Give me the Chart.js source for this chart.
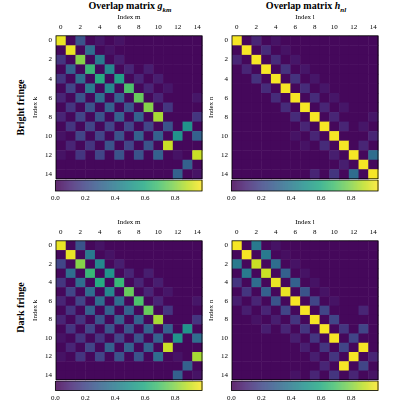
<!DOCTYPE html>
<html>
<head>
<meta charset="utf-8">
<script src="https://cdn.jsdelivr.net/npm/chart.js@4.4.0/dist/chart.umd.min.js"></script>
<style>
body { margin: 0; width: 400px; height: 400px; background: #fff; position: relative; overflow: hidden; font-family: "Liberation Serif", serif; }
.box { position: absolute; }
.title { position: absolute; font-weight: bold; font-size: 10px; text-align: center; width: 180px; }
.rowlab { position: absolute; font-weight: bold; font-size: 10px; transform: rotate(-90deg); transform-origin: center; white-space: nowrap; width: 100px; text-align: center; }
</style>
</head>
<body>
<div class="title" style="left:40px;top:0px">Overlap matrix <i>g</i><sub style="font-size:7px"><i>km</i></sub></div>
<div class="title" style="left:216px;top:0px">Overlap matrix <i>h</i><sub style="font-size:7px"><i>nl</i></sub></div>
<div class="rowlab" style="left:-30px;top:102px">Bright fringe</div>
<div class="rowlab" style="left:-30px;top:302px">Dark fringe</div>

<div class="box" style="left:30px;top:12px;width:176px;height:172px"><canvas id="hA"></canvas></div>
<div class="box" style="left:206px;top:12px;width:176px;height:172px"><canvas id="hB"></canvas></div>
<div class="box" style="left:30px;top:217px;width:176px;height:168px"><canvas id="hC"></canvas></div>
<div class="box" style="left:206px;top:217px;width:176px;height:168px"><canvas id="hD"></canvas></div>
<div class="box" style="left:50px;top:180px;width:156px;height:22px"><canvas id="cA"></canvas></div>
<div class="box" style="left:226px;top:180px;width:156px;height:22px"><canvas id="cB"></canvas></div>
<div class="box" style="left:50px;top:381px;width:156px;height:19px"><canvas id="cC"></canvas></div>
<div class="box" style="left:226px;top:381px;width:156px;height:19px"><canvas id="cD"></canvas></div>

<script>
const N = 15;
const indexTicks = [0, 2, 4, 6, 8, 10, 12, 14];
const barTicks = [0, 0.2, 0.4, 0.6, 0.8];
const background = 0.02;

// [row, col, value]
const brightG = [
  [0,0,.95],[0,2,.25],[0,4,.06],[0,6,.05],
  [1,1,.95],[1,3,.35],[1,5,.05],
  [2,0,.15],[2,2,.8],[2,4,.4],[2,6,.08],
  [3,1,.3],[3,3,.65],[3,5,.45],[3,7,.1],[3,9,.08],
  [4,0,.15],[4,2,.35],[4,4,.6],[4,6,.55],[4,8,.1],[4,10,.08],
  [5,1,.2],[5,3,.4],[5,5,.45],[5,7,.7],[5,9,.1],[5,11,.06],
  [6,0,.1],[6,2,.25],[6,4,.35],[6,6,.3],[6,8,.75],[6,10,.1],[6,14,.06],
  [7,1,.15],[7,3,.25],[7,5,.3],[7,7,.25],[7,9,.8],[7,11,.15],
  [8,0,.1],[8,2,.2],[8,4,.25],[8,6,.3],[8,8,.3],[8,10,.85],[8,14,.15],
  [9,1,.15],[9,3,.2],[9,5,.2],[9,7,.2],[9,9,.2],[9,11,.25],[9,13,.5],
  [10,0,.05],[10,2,.2],[10,4,.2],[10,6,.25],[10,8,.3],[10,10,.3],[10,12,.5],[10,14,.3],
  [11,1,.1],[11,3,.15],[11,5,.25],[11,7,.2],[11,9,.25],[11,11,.9],
  [12,0,.05],[12,2,.15],[12,4,.2],[12,6,.25],[12,8,.25],[12,10,.3],[12,12,.05],[12,14,.9],
  [13,13,.3],[14,12,.3],[14,14,.05]
];
const brightH = [
  [0,0,.97],[0,2,.1],[0,4,.05],
  [1,1,.97],[1,3,.12],[1,5,.05],
  [2,0,.1],[2,2,.97],[2,4,.12],[2,6,.06],
  [3,1,.1],[3,3,.97],[3,5,.14],[3,7,.06],
  [4,2,.14],[4,4,.97],[4,6,.14],[4,8,.06],
  [5,3,.12],[5,5,.97],[5,7,.12],[5,9,.06],
  [6,4,.12],[6,6,.97],[6,8,.12],[6,10,.06],
  [7,5,.12],[7,7,.97],[7,9,.1],[7,11,.06],
  [8,6,.12],[8,8,.97],[8,10,.1],[8,14,.06],
  [9,7,.1],[9,9,.97],[9,11,.1],[9,13,.06],
  [10,6,.05],[10,8,.1],[10,10,.97],[10,14,.1],
  [11,7,.05],[11,9,.12],[11,11,.97],[11,13,.1],
  [12,10,.08],[12,12,.97],[12,14,.35],
  [13,11,.08],[13,13,.97],
  [14,8,.1],[14,10,.15],[14,12,.35],[14,14,.97]
];
const darkG = [
  [0,0,.95],[0,2,.25],[0,4,.05],
  [1,1,.95],[1,3,.4],[1,5,.05],
  [2,0,.2],[2,2,.8],[2,4,.45],[2,6,.08],
  [3,1,.35],[3,3,.65],[3,5,.5],[3,7,.1],[3,9,.08],
  [4,0,.15],[4,2,.35],[4,4,.6],[4,6,.65],[4,8,.1],[4,10,.08],
  [5,1,.2],[5,3,.35],[5,5,.45],[5,7,.75],[5,9,.1],[5,11,.06],
  [6,0,.1],[6,2,.2],[6,4,.35],[6,6,.35],[6,8,.7],[6,10,.1],[6,14,.06],
  [7,1,.15],[7,3,.3],[7,5,.3],[7,7,.3],[7,9,.75],[7,11,.15],
  [8,0,.1],[8,2,.15],[8,4,.25],[8,6,.3],[8,8,.3],[8,10,.85],[8,14,.15],
  [9,1,.15],[9,3,.2],[9,5,.25],[9,7,.25],[9,9,.3],[9,11,.3],[9,13,.5],
  [10,0,.05],[10,2,.15],[10,4,.15],[10,6,.2],[10,8,.25],[10,10,.3],[10,12,.5],[10,14,.35],
  [11,1,.1],[11,3,.2],[11,5,.3],[11,7,.3],[11,9,.3],[11,11,.9],
  [12,0,.05],[12,2,.15],[12,4,.2],[12,6,.25],[12,8,.25],[12,10,.35],[12,12,.05],[12,14,.85],
  [13,13,.3],[14,12,.3],[14,14,.05]
];
const darkH = [
  [0,0,.97],[0,2,.4],[0,4,.05],
  [1,1,.97],[1,3,.4],[1,5,.04],
  [2,0,.4],[2,2,.9],[2,4,.35],[2,6,.05],
  [3,1,.4],[3,3,.9],[3,5,.3],[3,7,.05],
  [4,0,.15],[4,2,.35],[4,4,.95],[4,6,.3],[4,8,.05],
  [5,1,.15],[5,3,.3],[5,5,.95],[5,7,.25],[5,9,.05],
  [6,0,.08],[6,2,.1],[6,4,.25],[6,6,.97],[6,8,.2],[6,10,.05],
  [7,1,.08],[7,3,.1],[7,5,.2],[7,7,.97],[7,9,.2],[7,13,.1],
  [8,2,.05],[8,4,.08],[8,6,.15],[8,8,.97],[8,10,.2],
  [9,3,.08],[9,5,.1],[9,7,.15],[9,9,.97],[9,11,.15],[9,13,.2],
  [10,6,.08],[10,8,.15],[10,10,.97],[10,12,.2],
  [11,7,.08],[11,9,.15],[11,11,.2],[11,13,.97],
  [12,8,.08],[12,10,.15],[12,12,.97],[12,14,.1],
  [13,9,.1],[13,11,.97],[13,13,.2],
  [14,6,.05],[14,8,.1],[14,10,.15],[14,12,.1],[14,14,.05]
];

const viridisStops = [
  [68,1,84],[72,36,117],[65,68,135],[53,95,141],[42,120,142],
  [33,145,140],[34,168,132],[68,191,112],[122,209,81],[189,223,38],[253,231,37]
];
function viridis(t) {
  t = Math.max(0, Math.min(1, t / 0.98));
  const p = t * (viridisStops.length - 1);
  const i = Math.min(Math.floor(p), viridisStops.length - 2);
  const f = p - i;
  const a = viridisStops[i], b = viridisStops[i + 1];
  return `rgb(${a.map((v, k) => Math.round(v + (b[k] - v) * f)).join(',')})`;
}

const font = { family: 'Liberation Serif', size: 7 };

const heatPlugin = {
  id: 'heat',
  beforeDatasetsDraw(chart) {
    const { ctx, scales: { x, y } } = chart;
    chart.data.datasets[0].data.forEach(p => {
      const x0 = x.getPixelForValue(p.x - 0.5), x1 = x.getPixelForValue(p.x + 0.5);
      const y0 = y.getPixelForValue(p.y - 0.5), y1 = y.getPixelForValue(p.y + 0.5);
      ctx.fillStyle = viridis(p.v);
      ctx.fillRect(x0, y0, x1 - x0 + 0.5, y1 - y0 + 0.5);
    });
    const a = chart.chartArea;
    ctx.strokeStyle = '#000';
    ctx.lineWidth = 0.8;
    ctx.strokeRect(a.left, a.top, a.right - a.left, a.bottom - a.top);
  }
};

const makeHeat = (id, entries, xTitle, yTitle) => {
  const cells = [];
  for (let r = 0; r < N; r++) for (let c = 0; c < N; c++) cells.push({ x: c, y: r, v: background });
  entries.forEach(([r, c, v]) => { cells[r * N + c].v = v; });
  const axis = (title, extra) => Object.assign({
    type: 'linear', min: -0.5, max: 14.5,
    afterBuildTicks: s => { s.ticks = indexTicks.map(v => ({ value: v })); },
    grid: { display: false, drawTicks: true, tickLength: 3, color: '#000' },
    border: { display: false },
    ticks: { font, color: '#000', padding: 1, maxRotation: 0 },
    title: { display: true, text: title, font: { family: 'Liberation Serif', size: 7 }, color: '#000', padding: 1 }
  }, extra);
  return new Chart(document.getElementById(id), {
    type: 'scatter',
    data: { datasets: [{ data: cells, pointRadius: 0 }] },
    options: {
      responsive: true, maintainAspectRatio: false, animation: false,
      layout: { padding: { right: 4, bottom: 2 } },
      plugins: { legend: { display: false }, tooltip: { enabled: false } },
      scales: {
        x: axis(xTitle, { position: 'top' }),
        y: axis(yTitle, { reverse: true, afterFit: s => { s.width = 26; } })
      }
    },
    plugins: [heatPlugin]
  });
};

const barPlugin = {
  id: 'bar',
  beforeDatasetsDraw(chart) {
    const { ctx, chartArea: a, scales: { x } } = chart;
    for (let px = a.left; px < a.right; px++) {
      ctx.fillStyle = viridis(x.getValueForPixel(px + 0.5));
      ctx.fillRect(px, a.top, 1.2, a.bottom - a.top);
    }
    ctx.strokeStyle = '#000';
    ctx.lineWidth = 0.8;
    ctx.strokeRect(a.left, a.top, a.right - a.left, a.bottom - a.top);
  }
};

const makeBar = id => new Chart(document.getElementById(id), {
  type: 'scatter',
  data: { datasets: [{ data: [], pointRadius: 0 }] },
  options: {
    responsive: true, maintainAspectRatio: false, animation: false,
    layout: { padding: { left: 5, right: 4 } },
    plugins: { legend: { display: false }, tooltip: { enabled: false } },
    scales: {
      x: {
        type: 'linear', min: 0, max: 0.98,
        afterBuildTicks: s => { s.ticks = barTicks.map(v => ({ value: v })); },
        grid: { display: false, drawTicks: true, tickLength: 2, color: '#000' },
        border: { display: false },
        ticks: { font, color: '#000', padding: 1, callback: v => v.toFixed(1) }
      },
      y: { display: false, min: 0, max: 1 }
    }
  },
  plugins: [barPlugin]
});

makeHeat('hA', brightG, 'Index m', 'Index k');
makeHeat('hB', brightH, 'Index l', 'Index n');
makeHeat('hC', darkG, 'Index m', 'Index k');
makeHeat('hD', darkH, 'Index l', 'Index n');
['cA', 'cB', 'cC', 'cD'].forEach(makeBar);
</script>
</body>
</html>
